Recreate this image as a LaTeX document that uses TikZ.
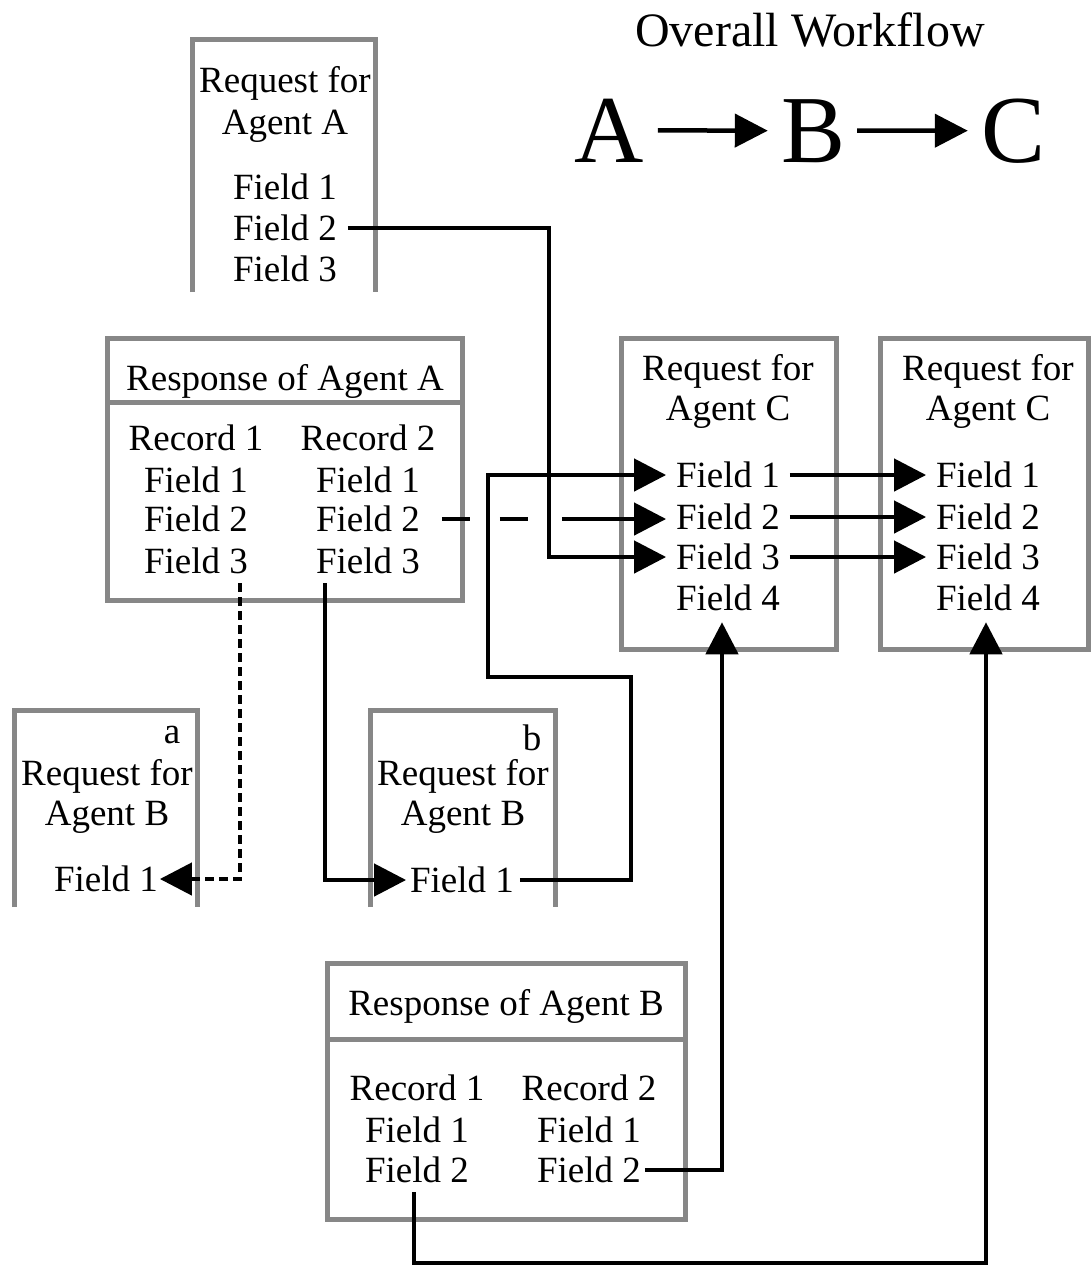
\documentclass[tikz,border=0pt]{standalone}
\usepackage{fontspec}
\setmainfont{Liberation Serif}
\usetikzlibrary{arrows.meta}
\definecolor{boxgray}{RGB}{135,135,135}
\tikzset{
  txt/.style={font=\fontsize{37}{41}\selectfont, inner sep=0pt, outer sep=0pt, text height=24.5pt, text depth=0pt},
  frame/.style={draw=boxgray, line width=5pt, line join=miter},
  conn/.style={line width=4.5pt, -{Triangle[length=32pt,width=32pt]}},
  dotline/.style={dash pattern=on 9pt off 5pt},
}
\begin{document}
\begin{tikzpicture}[x=1pt,y=-1pt]
\useasboundingbox (0,0) rectangle (1091,1267);

% ---- overall workflow
\node[font=\fontsize{48}{52}\selectfont, anchor=base, inner sep=0pt] (title) at (810,46) {Overall Workflow};
\node[font=\fontsize{96}{100}\selectfont, anchor=base, inner sep=0pt] (wA) at (609,162) {A};
\node[font=\fontsize{96}{100}\selectfont, anchor=base, inner sep=0pt] (wB) at (814,162) {B};
\node[font=\fontsize{96}{100}\selectfont, anchor=base, inner sep=0pt] (wC) at (1014,162) {C};
\draw[line width=4.5pt, -{Triangle[length=33pt,width=33pt]}, shorten <=14pt, shorten >=14pt] (wA.east) -- (wB.west);
\draw[line width=4.5pt, -{Triangle[length=33pt,width=33pt]}, shorten <=11pt, shorten >=14pt] (wB.east) -- (wC.west);

% ---- Request for Agent A
\draw[frame] (192.5,292) -- (192.5,39.5) -- (375.5,39.5) -- (375.5,292);
\node[txt] (rqA1) at (285,80) {Request for};
\node[txt] (rqA2) at (285,122) {Agent A};
\node[txt] (af1) at (285,187) {Field 1};
\node[txt] (af2) at (285,228) {Field 2};
\node[txt] (af3) at (285,269) {Field 3};

% ---- Response of Agent A
\draw[frame] (107.5,338.5) rectangle (462.5,600.5);
\draw[frame] (107.5,402) -- (462.5,402);
\node[txt] (raT) at (285,378) {Response of Agent A};
\node[txt] (ra1r) at (196,438) {Record 1};
\node[txt] (ra1f1) at (196,480) {Field 1};
\node[txt] (ra1f2) at (196,519) {Field 2};
\node[txt] (ra1f3) at (196,561) {Field 3};
\node[txt] (ra2r) at (368,438) {Record 2};
\node[txt] (ra2f1) at (368,480) {Field 1};
\node[txt] (ra2f2) at (368,519) {Field 2};
\node[txt] (ra2f3) at (368,561) {Field 3};

% ---- Request for Agent C (first)
\draw[frame] (621.5,338.5) rectangle (836.5,649.5);
\node[txt] (c1a) at (728,368) {Request for};
\node[txt] (c1b) at (728,408) {Agent C};
\node[txt] (c1f1) at (728,475) {Field 1};
\node[txt] (c1f2) at (728,517) {Field 2};
\node[txt] (c1f3) at (728,557) {Field 3};
\node[txt] (c1f4) at (728,598) {Field 4};

% ---- Request for Agent C (second)
\draw[frame] (880.5,338.5) rectangle (1088.5,649.5);
\node[txt] (c2a) at (988,368) {Request for};
\node[txt] (c2b) at (988,408) {Agent C};
\node[txt] (c2f1) at (988,475) {Field 1};
\node[txt] (c2f2) at (988,517) {Field 2};
\node[txt] (c2f3) at (988,557) {Field 3};
\node[txt] (c2f4) at (988,598) {Field 4};

% ---- Request for Agent B (a)
\draw[frame] (14.5,907) -- (14.5,710.5) -- (197.5,710.5) -- (197.5,907);
\node[font=\fontsize{37}{41}\selectfont, inner sep=0pt, anchor=base] (la) at (172,743) {a};
\node[txt] (qa1) at (107,773) {Request for};
\node[txt] (qa2) at (107,813) {Agent B};
\node[txt] (qaf1) at (106,879) {Field 1};

% ---- Request for Agent B (b)
\draw[frame] (370.5,907) -- (370.5,710.5) -- (555.5,710.5) -- (555.5,907);
\node[font=\fontsize{37}{41}\selectfont, inner sep=0pt, anchor=base] (lb) at (532,750) {b};
\node[txt] (qb1) at (463,773) {Request for};
\node[txt] (qb2) at (463,813) {Agent B};
\node[txt] (qbf1) at (462,880) {Field 1};

% ---- Response of Agent B
\draw[frame] (327.5,963.5) rectangle (685.5,1219.5);
\draw[frame] (327.5,1039) -- (685.5,1039);
\node[txt] (rbT) at (506,1003) {Response of Agent B};
\node[txt] (rb1r) at (417,1088) {Record 1};
\node[txt] (rb1f1) at (417,1130) {Field 1};
\node[txt] (rb1f2) at (417,1170) {Field 2};
\node[txt] (rb2r) at (589,1088) {Record 2};
\node[txt] (rb2f1) at (589,1130) {Field 1};
\node[txt] (rb2f2) at (589,1170) {Field 2};

% ---- helper coordinates
\coordinate (k1) at (631,677);
\coordinate (k2) at (488,677);
\coordinate (k3) at (414,1263);

% ---- connectors
% Agent A Field 2 -> C Field 3
\draw[conn] ([xshift=11pt]af2.east) -| ([xshift=-127pt]c1f3.west) -- ([xshift=-10pt]c1f3.west);
% Response A Record 2 Field 2 -> C Field 2 (dashed)
\draw[conn, dash pattern=on 28pt off 30pt on 28pt off 34pt on 400pt] ([xshift=22pt]ra2f2.east) -- ([xshift=-10pt]c1f2.west |- ra2f2.east);
% b Field 1 -> C Field 1
\draw[conn] ([xshift=6pt]qbf1.east) -| (k1) -- (k2) |- ([xshift=-10pt]c1f1.west);
% Response A Record 1 Field 3 -> a Field 1 (dotted)
\draw[conn, dotline] ([xshift=44pt,yshift=-10pt]ra1f3.south) |- ([xshift=2pt]qaf1.east);
% Response A Record 2 Field 3 -> b Field 1
\draw[conn] ([xshift=-43pt,yshift=-10pt]ra2f3.south) |- ([xshift=-4pt]qbf1.west);
% C -> C
\draw[conn] ([xshift=10pt]c1f1.east) -- ([xshift=-10pt]c2f1.west);
\draw[conn] ([xshift=10pt]c1f2.east) -- ([xshift=-10pt]c2f2.west);
\draw[conn] ([xshift=10pt]c1f3.east) -- ([xshift=-10pt]c2f3.west);
% Response B Record 2 Field 2 -> C Field 4
\draw[conn] ([xshift=4pt]rb2f2.east) -| ([xshift=-6pt,yshift=-12pt]c1f4.south);
% Response B Record 1 Field 2 -> second C Field 4
\draw[conn] ([xshift=-3pt,yshift=-10pt]rb1f2.south) -- (k3) -| ([xshift=-2pt,yshift=-12pt]c2f4.south);
\end{tikzpicture}
\end{document}
